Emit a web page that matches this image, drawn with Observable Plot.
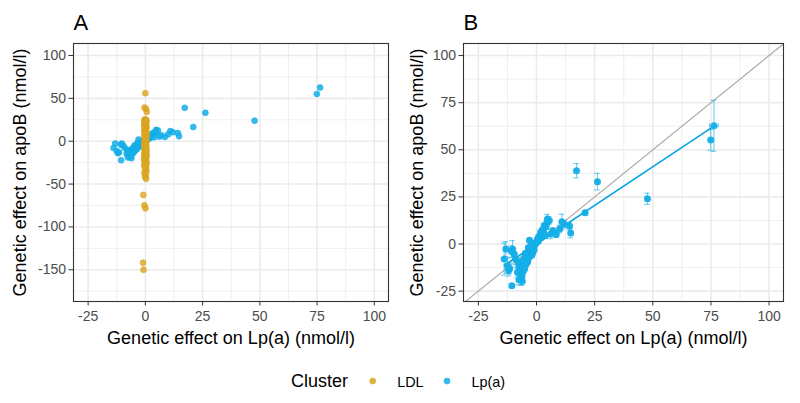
<!DOCTYPE html>
<html><head><meta charset="utf-8">
<script src="https://cdn.jsdelivr.net/npm/d3@7"></script>
<script src="https://cdn.jsdelivr.net/npm/@observablehq/plot@0.6"></script>
<style>
body{margin:0;background:#fff;font-family:"Liberation Sans",Arial,sans-serif;}
#wrap{position:relative;width:800px;height:403px;overflow:hidden;}
#pa{position:absolute;left:0;top:0;}
#pb{position:absolute;left:400px;top:0;}
#legend{position:absolute;left:0;top:360px;}
</style></head><body>
<div id="wrap"><div id="pa"></div><div id="pb"></div><div id="legend"></div></div>
<script>
const clusters = ["LDL", "Lp(a)"];
const clusterColors = ["#D9A520", "#14AEE8"];
const legendTitle = "Cluster";
const panelTitles = ["A", "B"];
const xLabel = "Genetic effect on Lp(a) (nmol/l)";
const yLabel = "Genetic effect on apoB (nmol/l)";
const xTicks = [-25, 0, 25, 50, 75, 100];
const yTicksA = [-150, -100, -50, 0, 50, 100];
const yTicksB = [-25, 0, 25, 50, 75, 100];
const xDomain = [-31.4, 106.2];
const yDomainA = [-187, 114];
const yDomainB = [-30.5, 106.4];

// LDL cluster (panel A only)
const ldlX = [0.0, -0.4, 0.3, 0.6, -0.2, 0.4, -0.5, 0.1, 0.5, -0.3,
  0.2, -0.6, 0.3, -0.1, 0.5, -0.4, 0.2, 0.0, -0.5, 0.4,
  -0.2, 0.6, -0.3, 0.1, 0.4, -0.5, 0.2, -0.1, 0.3, -0.4,
  0.5, -0.2, 0.1, -0.6, 0.4, -0.1, 0.3, -0.4, 0.2, 0.5,
  -0.3, 0.0, 0.4, -0.5, 0.2, -0.2, 0.6, -0.4, 0.1, 0.3,
  -0.6, 0.2, -0.1, 0.5, -0.3, 0.4, -0.5, 0.1, 0.3, -0.2,
  0.5, -0.4, 0.2, -0.1, 0.3, -0.9, -0.4, 0.0, -1.0, -0.8];
const ldlY = [56.0, 39.3, 37.6, 34.2, 25.6, 24.9, 24.1, 23.2, 22.4, 21.5,
  20.2, 19.4, 18.1, 17.3, 16.0, 15.2, 14.1, 12.9, 12.2, 11.0,
  9.8, 9.1, 8.0, 7.2, 5.9, 5.1, 4.0, 2.8, 2.1, 0.9,
  -0.7, -1.8, -3.0, -4.1, -5.3, -6.0, -7.2, -8.1, -9.3, -10.2,
  -11.1, -12.3, -13.0, -14.2, -15.1, -16.3, -17.0, -18.2, -19.4, -20.1,
  -21.3, -22.2, -23.5, -24.4, -25.8, -27.1, -28.6, -29.8, -31.4, -33.2,
  -35.0, -37.3, -39.7, -41.6, -43.8, -62.7, -74.8, -78.3, -141.8, -150.0];

// Lp(a) cluster (both panels)
const lpaX = [76.3, 74.9, 47.7, 26.2, 17.2, 20.9, 14.7, 14.2, 10.9, 10.0,
  8.5, 6.1, 4.7, 5.5, 3.3, 2.5, 1.8, 1.0, 0.4, 0.0,
  -0.5, -1.0, -1.5, -2.0, -2.4, -3.0, -3.5, -3.9, -4.2, -4.8,
  -5.3, -5.0, -5.8, -6.0, -6.7, -6.5, -7.0, -6.7, -8.2, -7.5,
  -8.0, -9.0, -9.6, -10.3, -10.8, -13.2, -13.9, -12.5, -12.0, -10.6,
  -11.5, -3.0, 2.0, 3.8, 7.0, 12.0, -2.0, -1.0, -4.0, 0.8,
  -3.2, -4.6, -5.6, -2.6, -1.6, -6.2, -5.1, 1.4, 3.0, 4.1,
  4.4, -7.6, -6.1, -3.8];
const lpaY = [62.7, 55.2, 24.0, 33.1, 38.9, 16.6, 5.8, 9.5, 11.8, 8.0,
  5.0, 5.3, 13.3, 12.5, 9.7, 7.5, 6.2, 4.0, 2.6, 1.0,
  -0.3, 0.5, -1.0, -2.5, -0.9, -3.5, -2.0, -4.5, -6.5, -5.0,
  -8.0, -10.5, -12.0, -9.0, -11.5, -14.5, -16.0, -18.0, -15.0, -13.0,
  -10.0, -8.0, -5.3, -2.7, -4.0, -2.7, -8.0, -11.5, -14.0, -22.1,
  -13.0, 2.0, 3.5, 4.5, 7.0, 10.5, -6.0, -3.0, -8.5, 1.5,
  -7.2, -11.0, -14.2, -4.3, -4.6, -16.8, -13.1, 3.2, 6.6, 9.1,
  11.0, -19.0, -19.8, -9.6];
const lpaYErr = [13.6, 5.5, 3.0, 4.4, 3.8, 1.2, 2.5, 2.0, 4.0, 2.0,
  1.5, 2.5, 2.4, 2.0, 1.5, 1.0, 1.0, 0.8, 0.5, 0.5,
  0.5, 0.5, 0.6, 0.8, 0.8, 1.0, 1.0, 1.0, 1.2, 1.2,
  1.5, 1.5, 1.5, 1.5, 2.0, 2.0, 2.5, 4.0, 2.5, 2.0,
  2.0, 3.0, 3.0, 4.5, 3.0, 4.0, 8.5, 4.0, 3.0, 1.0,
  3.0, 1.0, 1.0, 1.5, 1.5, 2.0, 1.0, 0.8, 1.2, 0.5,
  1.0, 1.2, 1.5, 0.8, 0.8, 2.0, 1.5, 0.6, 1.0, 1.2,
  1.5, 2.5, 2.0, 1.0];
const lpaXErr = [1.9, 0.4, 0.4, 0.4, 0.3, 0.3, 0.3, 0.3, 0.3, 0.3,
  0.3, 0.3, 0.3, 0.3, 0.2, 0.2, 0.2, 0.2, 0.2, 0.2,
  0.2, 0.2, 0.2, 0.2, 0.2, 0.2, 0.2, 0.2, 0.2, 0.2,
  0.2, 0.2, 0.2, 0.2, 0.2, 0.2, 0.2, 0.2, 0.2, 0.2,
  0.2, 0.2, 0.2, 0.2, 0.2, 0.3, 0.3, 0.3, 0.3, 0.3,
  0.3, 0.2, 0.2, 0.2, 0.2, 0.3, 0.2, 0.2, 0.2, 0.2,
  0.2, 0.2, 0.2, 0.2, 0.2, 0.2, 0.2, 0.2, 0.2, 0.2,
  0.2, 0.2, 0.2, 0.2];
const fitSlope = 0.82;

const FONT = "'Liberation Sans', Arial, Helvetica, sans-serif";
const ldl = ldlX.map((x, i) => ({x, y: ldlY[i], cluster: clusters[0]}));
const lpa = lpaX.map((x, i) => ({x, y: lpaY[i], ye: lpaYErr[i], xe: lpaXErr[i], cluster: clusters[1]}));
const colorOf = c => clusterColors[clusters.indexOf(c)];
const fmt = d => String(d);

function minorTicks(ticks, domain) {
  const step = ticks[1] - ticks[0];
  const out = [];
  for (const t of [ticks[0] - step, ...ticks]) {
    const m = t + step / 2;
    if (m >= domain[0] && m <= domain[1]) out.push(m);
  }
  return out;
}

function panel({yDomain, yTicks, ml, mr, title, yTitleDx, marks}) {
  const gridStyle = {stroke: "#EBEBEB", strokeOpacity: 1};
  return Plot.plot({
    width: 400, height: 360,
    marginLeft: ml, marginRight: mr, marginTop: 43, marginBottom: 59,
    style: {fontFamily: FONT, background: "white", overflow: "visible"},
    x: {domain: xDomain},
    y: {domain: yDomain},
    marks: [
      Plot.gridX(minorTicks(xTicks, xDomain), {...gridStyle, strokeWidth: 0.8}),
      Plot.gridY(minorTicks(yTicks, yDomain), {...gridStyle, strokeWidth: 0.8}),
      Plot.gridX(xTicks, {...gridStyle, strokeWidth: 1.6}),
      Plot.gridY(yTicks, {...gridStyle, strokeWidth: 1.6}),
      ...marks,
      Plot.frame({stroke: "#333333", strokeWidth: 1.1}),
      Plot.axisX(xTicks, {tickSize: 4.5, tickPadding: 5, fontSize: 14, stroke: "#333333", fill: "#4D4D4D", tickFormat: fmt, label: null}),
      Plot.axisY(yTicks, {tickSize: 4.5, tickPadding: 3, fontSize: 14, stroke: "#333333", fill: "#4D4D4D", tickFormat: fmt, label: null}),
      Plot.text([xLabel], {text: d => d, frameAnchor: "bottom", dy: 37, fontSize: 18, textAnchor: "middle", lineAnchor: "middle", fill: "black"}),
      Plot.text([yLabel], {text: d => d, frameAnchor: "left", rotate: -90, dx: yTitleDx, fontSize: 18, textAnchor: "middle", lineAnchor: "middle", fill: "black"}),
      Plot.text([title], {text: d => d, frameAnchor: "top-left", dy: -21, fontSize: 22, textAnchor: "start", lineAnchor: "middle", fill: "black"})
    ]
  });
}

// Panel A
const plotA = panel({
  yDomain: yDomainA, yTicks: yTicksA, ml: 73, mr: 12, title: panelTitles[0], yTitleDx: -53,
  marks: [
    Plot.dot(lpa, {x: "x", y: "y", r: 3, fill: d => colorOf(d.cluster), fillOpacity: 0.85, stroke: d => colorOf(d.cluster), strokeOpacity: 0.9, strokeWidth: 0.6}),
    Plot.dot(ldl, {x: "x", y: "y", r: 3, fill: d => colorOf(d.cluster), fillOpacity: 0.8, stroke: d => colorOf(d.cluster), strokeOpacity: 0.95, strokeWidth: 0.6})
  ]
});
document.getElementById("pa").appendChild(plotA);

// Panel B
const blue = clusterColors[1];
const diag = xDomain.map(v => ({x: v, y: v}));
const xr = d3.extent(lpaX);
const fit = xr.map(v => ({x: v, y: fitSlope * v}));
const capX = 1.2, capY = 1.1;
const plotB = panel({
  yDomain: yDomainB, yTicks: yTicksB, ml: 63, mr: 17, title: panelTitles[1], yTitleDx: -46,
  marks: [
    Plot.line(diag, {x: "x", y: "y", stroke: "#A8A8A8", strokeWidth: 1.1, clip: true}),
    Plot.ruleX(lpa, {x: "x", y1: d => d.y - d.ye, y2: d => d.y + d.ye, stroke: blue, strokeOpacity: 0.6, strokeWidth: 1.1}),
    Plot.ruleY(lpa, {y: d => d.y + d.ye, x1: d => d.x - capX, x2: d => d.x + capX, stroke: blue, strokeOpacity: 0.6, strokeWidth: 1.1}),
    Plot.ruleY(lpa, {y: d => d.y - d.ye, x1: d => d.x - capX, x2: d => d.x + capX, stroke: blue, strokeOpacity: 0.6, strokeWidth: 1.1}),
    Plot.ruleY(lpa, {y: "y", x1: d => d.x - d.xe, x2: d => d.x + d.xe, stroke: blue, strokeOpacity: 0.6, strokeWidth: 1.1}),
    Plot.ruleX(lpa, {x: d => d.x + d.xe, y1: d => d.y - capY, y2: d => d.y + capY, stroke: blue, strokeOpacity: 0.6, strokeWidth: 1.1}),
    Plot.ruleX(lpa, {x: d => d.x - d.xe, y1: d => d.y - capY, y2: d => d.y + capY, stroke: blue, strokeOpacity: 0.6, strokeWidth: 1.1}),
    Plot.line(fit, {x: "x", y: "y", stroke: "#0AA6E4", strokeWidth: 1.7}),
    Plot.dot(lpa, {x: "x", y: "y", r: 3.5, fill: blue, fillOpacity: 0.95})
  ]
});
document.getElementById("pb").appendChild(plotB);

// Legend
const lg = d3.select("#legend").append("svg").attr("width", 800).attr("height", 43)
  .style("font-family", FONT);
lg.append("text").attr("x", 291).attr("y", 27).attr("font-size", 18).attr("fill", "black").text(legendTitle);
const itemX = [372.7, 447];
clusters.forEach((c, i) => {
  lg.append("circle").attr("cx", itemX[i]).attr("cy", 21).attr("r", 3)
    .attr("fill", clusterColors[i]).attr("fill-opacity", 0.85)
    .attr("stroke", clusterColors[i]).attr("stroke-width", 0.6);
  lg.append("text").attr("x", itemX[i] + 24.5).attr("y", 26.5).attr("font-size", 14.4).attr("fill", "black").text(c);
});
</script>
</body></html>
